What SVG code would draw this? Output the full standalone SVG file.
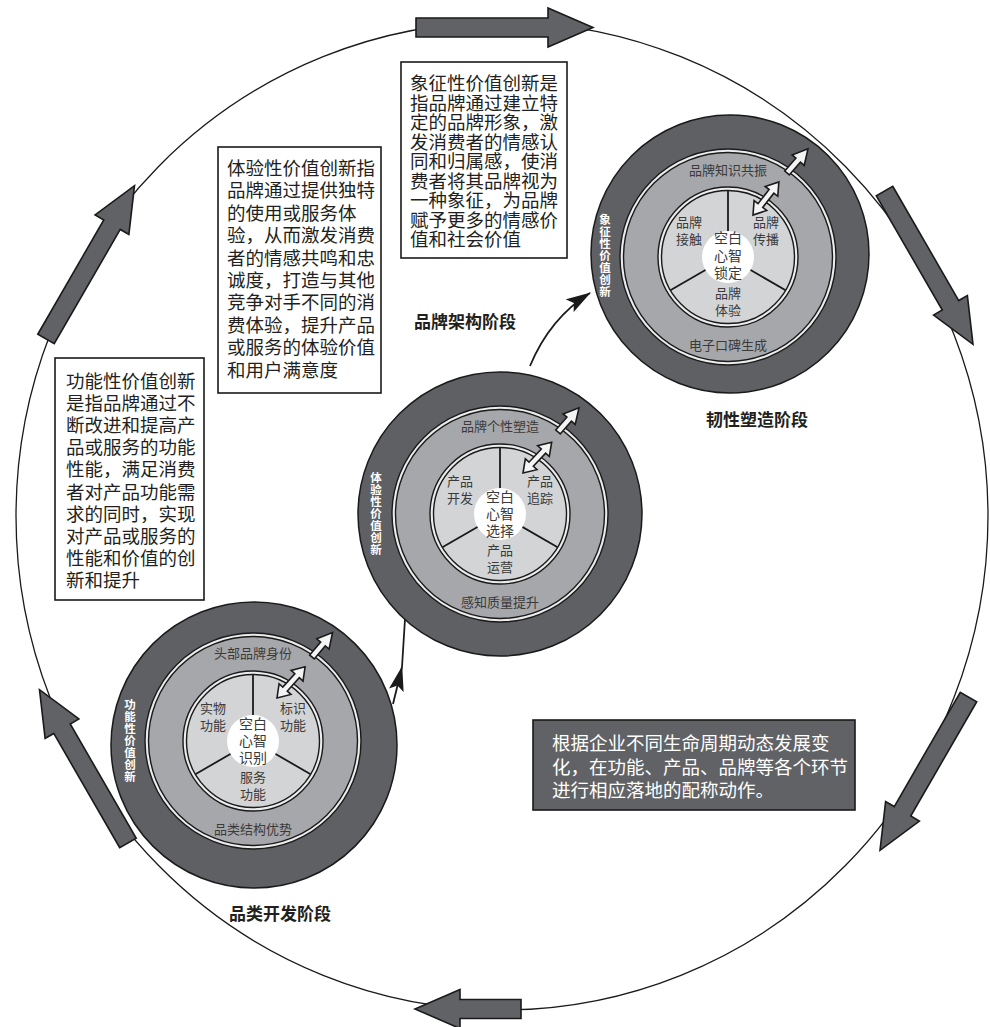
<svg xmlns="http://www.w3.org/2000/svg" xmlns:xlink="http://www.w3.org/1999/xlink" width="990" height="1027" viewBox="0 0 990 1027">
<style>
  .dark{fill:#5f6064;stroke:#1a1a1a;stroke-width:1.5}
  .band{fill:#ececec;stroke:#1a1a1a;stroke-width:1.4}
  .mid{fill:#a6a7aa;stroke:#1a1a1a;stroke-width:1.4}
  .light{fill:#d3d4d6;stroke:#1a1a1a;stroke-width:1.4}
  .white{fill:#ffffff;stroke:none}
  .div{stroke:#1a1a1a;stroke-width:1.8}
  .ring{font-family:"Noto Sans CJK SC",sans-serif;font-size:13px;fill:#3a3a3a;text-anchor:middle}
  .ctr{font-family:"Noto Sans CJK SC",sans-serif;font-size:14px;fill:#3a3a3a;text-anchor:middle}
  .vert{font-family:"Noto Sans CJK SC",sans-serif;font-size:11.5px;font-weight:bold;fill:#ffffff;text-anchor:middle;writing-mode:vertical-rl;letter-spacing:0.4px}
  .hollow{fill:#f4f4f4;stroke:#1a1a1a;stroke-width:1.6;stroke-linejoin:miter}
  .big{fill:#616266;stroke:#1a1a1a;stroke-width:1.6;stroke-linejoin:miter}
  .box{fill:#ffffff;stroke:#1a1a1a;stroke-width:1.6}
  .boxd{fill:#616266;stroke:#1a1a1a;stroke-width:1.6}
  .bt{font-family:"Noto Sans CJK SC",sans-serif;font-size:18.5px;fill:#231f20}
  .btw{font-family:"Noto Sans CJK SC",sans-serif;font-size:18.5px;fill:#ffffff}
  .stage{font-family:"Noto Sans CJK SC",sans-serif;font-size:17px;font-weight:bold;fill:#231f20;text-anchor:middle}
  .conn{fill:none;stroke:#1a1a1a;stroke-width:1.8}
</style>
<defs>
  <path id="bigArrow" d="M0,-9.5 L132,-9.5 L132,-19.5 L177,0 L132,19.5 L132,9.5 L0,9.5 Z"/>
  <path id="shortArrow" d="M0,-9.5 L61,-9.5 L61,-19.5 L106,0 L61,19.5 L61,9.5 L0,9.5 Z"/>
  <path id="outArrow" d="M0,-3 L17,-3 L17,-8 L32,0 L17,8 L17,3 L0,3 Z"/>
  <path id="dblArrow" d="M0,0 L12,-8 L12,-3 L30,-3 L30,-8 L42,0 L30,8 L30,3 L12,3 L12,8 Z"/>
  <marker id="ah" markerWidth="26" markerHeight="16" refX="24" refY="8" orient="auto" markerUnits="userSpaceOnUse">
    <path d="M0,0.5 L25,8 L0,15.5 L5,8 Z" fill="#1a1a1a"/>
  </marker>
</defs>

<rect x="0" y="0" width="990" height="1027" fill="#ffffff"/>

<!-- big cycle -->
<g id="cycle">
  <ellipse cx="502" cy="516" rx="486" ry="494" fill="none" stroke="#1a1a1a" stroke-width="1.3"/>
  <use xlink:href="#bigArrow" class="big" transform="translate(416,27.5)"/>
  <use xlink:href="#bigArrow" class="big" transform="translate(884.5,191) rotate(60)"/>
  <use xlink:href="#bigArrow" class="big" transform="translate(968.5,697) rotate(120)"/>
  <use xlink:href="#shortArrow" class="big" transform="translate(521,1009) rotate(180)"/>
  <use xlink:href="#bigArrow" class="big" transform="translate(128,843) rotate(240)"/>
  <use xlink:href="#bigArrow" class="big" transform="translate(46,339) rotate(-60)"/>
</g>

<!-- connectors -->
<g id="connectors">
  <path class="conn" d="M393,704 L402,667" marker-end="url(#ah)"/>
  <path class="conn" d="M402,667 L405,619"/>
  <path class="conn" d="M530,366 Q550,318 590,293" marker-end="url(#ah)"/>
</g>

<!-- node 1 -->
<g id="node-1" transform="translate(253,741)">
  <circle class="dark" cx="1" cy="4" r="143"/>
  <circle class="band" r="108"/>
  <circle class="mid" r="104.5"/>
  <circle class="band" r="70"/>
  <circle class="light" r="66.5"/>
  <line class="div" x1="0" y1="0" x2="0" y2="-66.5"/>
  <line class="div" x1="0" y1="0" x2="57.6" y2="33.2"/>
  <line class="div" x1="0" y1="0" x2="-57.6" y2="33.2"/>
  <circle class="white" r="26"/>
  <text class="ring" x="0" y="-83">头部品牌身份</text>
  <text class="ring" x="0" y="93">品类结构优势</text>
  <text class="ring" x="-40" y="-28">实物</text>
  <text class="ring" x="-40" y="-11">功能</text>
  <text class="ring" x="40" y="-28">标识</text>
  <text class="ring" x="40" y="-11">功能</text>
  <text class="ring" x="0" y="41">服务</text>
  <text class="ring" x="0" y="58">功能</text>
  <text class="ctr" x="0" y="-12">空白</text>
  <text class="ctr" x="0" y="5">心智</text>
  <text class="ctr" x="0" y="22">识别</text>
  <text class="vert" x="-123" y="0">功能性价值创新</text>
  <use xlink:href="#outArrow" class="hollow" transform="translate(59,-84) rotate(-50)"/>
  <use xlink:href="#dblArrow" class="hollow" transform="translate(24,-43) rotate(-48)"/>
</g>

<!-- node 2 -->
<g id="node-2" transform="translate(500,514)">
  <circle class="dark" cx="0" cy="0" r="142"/>
  <circle class="band" r="108"/>
  <circle class="mid" r="104.5"/>
  <circle class="band" r="70"/>
  <circle class="light" r="66.5"/>
  <line class="div" x1="0" y1="0" x2="0" y2="-66.5"/>
  <line class="div" x1="0" y1="0" x2="57.6" y2="33.2"/>
  <line class="div" x1="0" y1="0" x2="-57.6" y2="33.2"/>
  <circle class="white" r="26"/>
  <text class="ring" x="0" y="-83">品牌个性塑造</text>
  <text class="ring" x="0" y="93">感知质量提升</text>
  <text class="ring" x="-40" y="-28">产品</text>
  <text class="ring" x="-40" y="-11">开发</text>
  <text class="ring" x="40" y="-28">产品</text>
  <text class="ring" x="40" y="-11">追踪</text>
  <text class="ring" x="0" y="41">产品</text>
  <text class="ring" x="0" y="58">运营</text>
  <text class="ctr" x="0" y="-12">空白</text>
  <text class="ctr" x="0" y="5">心智</text>
  <text class="ctr" x="0" y="22">选择</text>
  <text class="vert" x="-124" y="0">体验性价值创新</text>
  <use xlink:href="#outArrow" class="hollow" transform="translate(58,-82) rotate(-49)"/>
  <use xlink:href="#dblArrow" class="hollow" transform="translate(23,-41) rotate(-47)"/>
</g>

<!-- node 3 -->
<g id="node-3" transform="translate(728,257)">
  <circle class="dark" cx="2" cy="-3" r="139"/>
  <circle class="band" r="108"/>
  <circle class="mid" r="104.5"/>
  <circle class="band" r="70"/>
  <circle class="light" r="66.5"/>
  <line class="div" x1="0" y1="0" x2="0" y2="-66.5"/>
  <line class="div" x1="0" y1="0" x2="57.6" y2="33.2"/>
  <line class="div" x1="0" y1="0" x2="-57.6" y2="33.2"/>
  <circle class="white" r="26"/>
  <text class="ring" x="0" y="-82">品牌知识共振</text>
  <text class="ring" x="0" y="93">电子口碑生成</text>
  <text class="ring" x="-39" y="-30">品牌</text>
  <text class="ring" x="-39" y="-13">接触</text>
  <text class="ring" x="38" y="-30">品牌</text>
  <text class="ring" x="38" y="-13">传播</text>
  <text class="ring" x="0" y="41">品牌</text>
  <text class="ring" x="0" y="58">体验</text>
  <text class="ctr" x="0" y="-14">空白</text>
  <text class="ctr" x="0" y="4">心智</text>
  <text class="ctr" x="0" y="21">锁定</text>
  <text class="vert" x="-123" y="-1">象征性价值创新</text>
  <use xlink:href="#outArrow" class="hollow" transform="translate(59,-84) rotate(-49)"/>
  <use xlink:href="#dblArrow" class="hollow" transform="translate(25,-42) rotate(-52)"/>
</g>

<!-- stage labels -->
<g id="stage-labels">
  <text class="stage" x="465" y="328">品牌架构阶段</text>
  <text class="stage" x="757" y="426">韧性塑造阶段</text>
  <text class="stage" x="280" y="920">品类开发阶段</text>
</g>

<!-- text box A -->
<g id="box-symbolic">
  <rect class="box" x="401" y="62" width="166" height="196"/>
  <text class="bt">
    <tspan x="410" y="90">象征性价值创新是</tspan>
    <tspan x="410" y="109.5">指品牌通过建立特</tspan>
    <tspan x="410" y="129">定的品牌形象，激</tspan>
    <tspan x="410" y="148.5">发消费者的情感认</tspan>
    <tspan x="410" y="168">同和归属感，使消</tspan>
    <tspan x="410" y="187.5">费者将其品牌视为</tspan>
    <tspan x="410" y="207">一种象征，为品牌</tspan>
    <tspan x="410" y="226.5">赋予更多的情感价</tspan>
    <tspan x="410" y="246">值和社会价值</tspan>
  </text>
</g>

<!-- text box B -->
<g id="box-experience">
  <rect class="box" x="218" y="147" width="163" height="246"/>
  <text class="bt">
    <tspan x="227" y="175">体验性价值创新指</tspan>
    <tspan x="227" y="197.4">品牌通过提供独特</tspan>
    <tspan x="227" y="219.8">的使用或服务体</tspan>
    <tspan x="227" y="242.2">验，从而激发消费</tspan>
    <tspan x="227" y="264.6">者的情感共鸣和忠</tspan>
    <tspan x="227" y="287">诚度，打造与其他</tspan>
    <tspan x="227" y="309.4">竞争对手不同的消</tspan>
    <tspan x="227" y="331.8">费体验，提升产品</tspan>
    <tspan x="227" y="354.2">或服务的体验价值</tspan>
    <tspan x="227" y="376.6">和用户满意度</tspan>
  </text>
</g>

<!-- text box C -->
<g id="box-functional">
  <rect class="box" x="55" y="358" width="149" height="242"/>
  <text class="bt">
    <tspan x="66" y="388">功能性价值创新</tspan>
    <tspan x="66" y="410.1">是指品牌通过不</tspan>
    <tspan x="66" y="432.2">断改进和提高产</tspan>
    <tspan x="66" y="454.3">品或服务的功能</tspan>
    <tspan x="66" y="476.4">性能，满足消费</tspan>
    <tspan x="66" y="498.5">者对产品功能需</tspan>
    <tspan x="66" y="520.6">求的同时，实现</tspan>
    <tspan x="66" y="542.7">对产品或服务的</tspan>
    <tspan x="66" y="564.8">性能和价值的创</tspan>
    <tspan x="66" y="586.9">新和提升</tspan>
  </text>
</g>

<!-- text box D -->
<g id="box-summary">
  <rect class="boxd" x="533" y="720" width="322" height="90"/>
  <text class="btw">
    <tspan x="552" y="750">根据企业不同生命周期动态发展变</tspan>
    <tspan x="552" y="773.5">化，在功能、产品、品牌等各个环节</tspan>
    <tspan x="552" y="797">进行相应落地的配称动作。</tspan>
  </text>
</g>
</svg>
